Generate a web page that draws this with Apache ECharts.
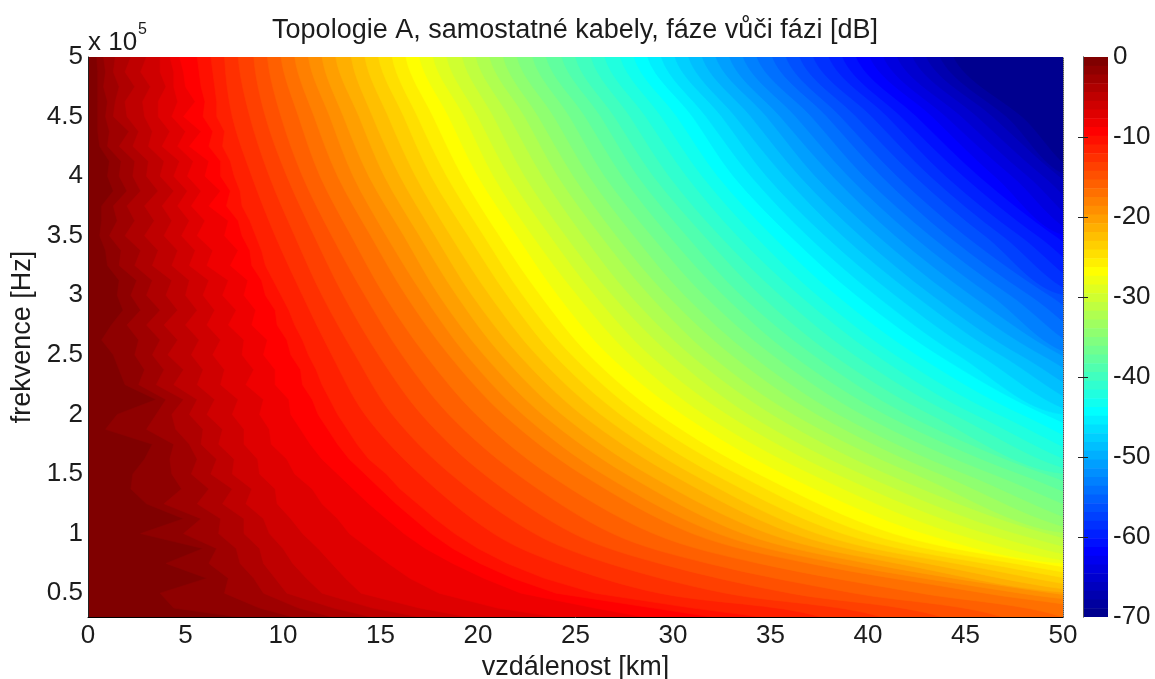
<!DOCTYPE html>
<html><head><meta charset="utf-8">
<style>html,body{margin:0;padding:0;background:#fff}#c{width:1155px;height:679px}</style>
<script src="https://cdn.jsdelivr.net/npm/echarts@6/dist/echarts.min.js"></script>
</head><body><div id="c"></div>
<script>
const titleText = 'Topologie A, samostatné kabely, fáze vůči fázi [dB]';
const xLabel = 'vzdálenost [km]';
const yLabel = 'frekvence [Hz]';
const xTicks = [0,5,10,15,20,25,30,35,40,45,50];
const yTicks = [0.5,1,1.5,2,2.5,3,3.5,4,4.5,5];   // x 10^5 Hz
const colorbarTicks = [0,-10,-20,-30,-40,-50,-60,-70];
const bandCount = 64;

// Distance [km] at which each of the first 10 band edges is crossed, per frequency (x 10^5 Hz).
const nearFreqs = [5,4.875,4.75,4.625,4.5,4.375,4.25,4.125,4,3.875,3.75,3.625,3.5,3.375,3.25,3.125,3,2.875,2.75,2.625,2.5,2.375,2.25,2.125,2,1.875,1.75,1.625,1.5,1.375,1.25,1.125,1,0.875,0.75,0.625,0.5,0.375,0.3];
const nearRows = [
[.45,.8,1.4,2.2,3.0,3.7,4.2,4.7,5.6,6.3],
[.5,.9,1.3,1.9,2.7,3.7,4.4,4.9,5.7,6.4],
[.5,.8,1.6,2.4,3.2,4.0,4.4,5.0,5.8,6.5],
[.5,1.0,1.4,1.9,2.8,3.6,4.6,5.5,6.0,6.6],
[.5,.9,1.3,2.0,2.9,3.6,4.3,4.9,5.9,6.6],
[.5,1.1,2.1,2.6,3.3,4.2,5.0,5.8,6.4,7.0],
[.6,1.0,1.6,2.3,3.1,3.8,4.6,5.2,6.2,6.9],
[1.1,1.7,2.4,3.1,3.9,4.7,5.4,6.2,6.8,7.3],
[1.0,1.6,2.3,3.0,3.7,4.4,5.1,6.0,6.8,7.5],
[1.3,2.0,2.7,3.6,4.4,5.1,5.8,6.8,7.3,7.8],
[.7,1.3,2.0,2.9,3.8,4.6,5.3,6.2,7.1,7.9],
[.7,1.5,2.4,3.4,4.3,5.2,6.0,7.2,7.7,8.3],
[.6,1.1,1.9,2.9,3.9,4.8,5.6,7.0,7.9,8.6],
[.9,1.7,2.7,3.6,4.6,5.5,6.4,7.7,8.3,8.9],
[1.0,1.6,2.4,3.3,4.3,5.2,6.1,7.3,8.4,9.1],
[1.6,2.5,3.3,4.3,5.2,6.2,7.2,8.2,8.9,9.5],
[1.5,2.2,3.0,4.0,5.0,5.9,6.9,8.0,9.1,9.9],
[1.8,2.7,3.7,4.6,5.6,6.5,7.6,8.6,9.6,10.3],
[1.2,2.0,3.0,3.9,5.0,6.1,7.2,8.4,9.7,10.6],
[.7,2.6,3.7,4.6,5.7,6.8,8.0,9.2,10.2,11.0],
[1.3,2.4,3.3,4.1,5.3,6.4,7.9,9.0,10.4,11.3],
[1.6,2.9,3.9,4.9,5.9,7.0,8.5,9.6,10.9,11.7],
[1.9,2.6,3.5,4.4,5.6,6.8,8.1,9.6,11.0,12.0],
[3.5,4.0,4.9,5.6,6.5,7.7,9.0,10.3,11.5,12.4],
[1.5,3.5,4.3,5.2,6.1,7.4,8.8,10.4,11.8,12.8],
[.9,3.0,4.5,5.9,6.9,8.0,9.3,10.9,12.3,13.3],
[3.3,4.4,5.2,5.8,6.7,8.0,9.4,11.4,12.8,13.8],
[2.9,4.2,5.6,6.6,7.5,8.7,10.2,12.0,13.4,14.4],
[2.3,4.3,5.3,6.3,7.4,8.8,10.6,12.8,14.2,15.3],
[2.2,4.8,6.2,7.4,8.4,9.6,11.5,13.6,15.0,16.0],
[3.0,3.9,5.6,6.9,8.1,9.7,12.0,14.4,15.8,16.9],
[4.9,5.8,6.8,8.0,9.0,10.4,12.8,15.3,16.7,17.8],
[2.7,4.9,6.7,8.0,9.3,11.0,13.4,16.2,17.6,18.8],
[5.9,6.6,7.6,8.8,10.0,11.8,14.4,17.3,18.7,20.0],
[4.0,6.2,7.8,9.0,10.5,12.5,15.4,18.7,20.1,21.5],
[6.1,7.2,8.5,9.6,11.2,13.2,16.5,20.3,21.8,23.4],
[3.7,7.0,9.0,10.2,12.0,14.0,18.0,22.2,24.0,26.0],
[4.4,8.8,10.8,12.6,14.6,17,21,26,29,31],
[7.7,10.5,12.5,14.5,17,19.5,24,28.5,32,34.5]
];

// Distance [km] of band edges 11..63 per frequency; each row stops once it has left the plot.
const farFreqs = [5,4.5,4,3.5,3,2.5,2,1.5,1,0.75,0.5,0.3];
const farRows = [
[7.0,7.4,8.4,9.6,11,12.5,14.2,17,20.8,24.1,29.3,37.6],
[7.7,8.3,9.3,10.6,12,13.7,15.6,18.6,22.9,26.7,32.7,40.7],
[8.5,9.1,10.2,11.6,13.1,14.9,17.1,20.3,24.9,29.3,36,43.8],
[9.2,9.9,11,12.5,14.2,16.1,18.5,22,26.9,31.8,39.3,46.9],
[9.9,10.8,11.9,13.5,15.2,17.3,19.9,23.6,29,34.4,42.7,50],
[10.6,11.6,12.8,14.5,16.3,18.5,21.3,25.3,31,37,46,53],
[11.3,12.4,13.6,15.3,17.2,19.4,22.3,26.4,32.3,38.5,47.8,56],
[12,13.1,14.4,16.2,18,20.3,23.3,27.6,33.6,40,49.5,59],
[12.7,13.9,15.2,17,18.9,21.2,24.3,28.7,34.9,41.5,51.3],
[13.5,14.6,16,17.8,19.7,22.1,25.3,29.9,36.2,43,53],
[14.2,15.4,16.8,18.6,20.6,23,26.3,31,37.4,44.5,55],
[14.9,16.2,17.6,19.5,21.5,23.9,27.3,32.1,38.7,46,57],
[15.6,16.9,18.4,20.3,22.3,24.8,28.3,33.3,40,47.5,58.5],
[16.3,17.7,19.2,21.1,23.2,25.7,29.3,34.4,41.3,49,60],
[17,18.5,20,22,24.1,26.7,30.5,35.7,42.9,50.6],
[17.7,19.3,20.8,22.8,25.1,27.8,31.6,37.1,44.5,52.2],
[18.4,20,21.6,23.7,26,28.8,32.8,38.4,46.1,54],
[19.2,20.8,22.4,24.5,26.9,29.9,33.9,39.7,47.6,56],
[19.9,21.6,23.3,25.4,27.8,30.9,35.1,41,49.2,58],
[20.6,22.4,24.1,26.3,28.8,31.9,36.2,42.4,50.8],
[21.3,23.1,24.9,27.1,29.7,33,37.4,43.7,52.4],
[22,23.9,25.7,28,30.6,34,38.5,45,54],
[22.8,24.7,26.5,28.9,31.6,35.1,39.7,46.4,55.8],
[23.5,25.5,27.4,29.8,32.6,36.1,40.9,47.8,57.6],
[24.3,26.3,28.2,30.7,33.5,37.2,42,49.1,59.4],
[25,27,29,31.6,34.5,38.2,43.2,50.5],
[25.8,27.8,29.8,32.4,35.5,39.3,44.4,52],
[26.5,28.6,30.7,33.3,36.5,40.4,45.5,53.4],
[27.3,29.4,31.5,34.2,37.4,41.4,46.7,54.8],
[28,30.2,32.3,35.1,38.4,42.5,47.9,56],
[28.7,31,33.1,36,39.4,43.6,49.1,57.5],
[29.4,31.7,34,36.9,40.4,44.6,50.3],
[30.1,32.5,34.8,37.8,41.4,45.7,51.6],
[30.8,33.2,35.7,38.7,42.4,46.8,52.9],
[31.5,34,36.5,39.6,43.3,47.8,54.2],
[32.2,34.8,37.3,40.5,44.3,48.9,55.5],
[32.9,35.5,38.2,41.4,45.3,49.9,56.8],
[33.6,36.3,39,42.3,46.3,51],
[34.3,37.1,39.8,43.2,47.3,52.2],
[35.1,37.9,40.7,44.1,48.3,53.4],
[35.8,38.6,41.5,45,49.3,54.6],
[36.5,39.4,42.4,46,50.4],
[37.2,40.2,43.2,46.9,51.4],
[38,41,44,47.8,52.5],
[38.7,41.7,44.9,48.7,53.5],
[39.4,42.5,45.7,49.6,54.5],
[40.1,43.3,46.5,50.5],
[40.8,44,47.4,51.4],
[41.5,44.8,48.2,52.3],
[42.3,45.6,49,53.2],
[43,46.4,49.8,54.1],
[43.7,47.1,50.7],
[44.4,47.9,51.5]
];

// MATLAB jet, 64 steps, indexed from the top of the colour bar (0 dB) downwards.
function clamp(v){return Math.max(0,Math.min(1,v));}
function jet(k){
  const x=(bandCount-k)/bandCount;
  const c=v=>Math.round(255*clamp(v));
  return 'rgb('+c(Math.min(4*x-1.5,-4*x+4.5))+','+c(Math.min(4*x-.5,-4*x+3.5))+','+c(Math.min(4*x+.5,-4*x+2.5))+')';
}
const FONT='"Liberation Sans", Arial, sans-serif';
const FS=26, FST=27, INK='#1c1c1c';

const edges=[];
for(let k=1;k<bandCount;k++) edges.push([k]);
const bands=[];
for(let k=0;k<bandCount;k++) bands.push([k]);

function contourItem(params,api){
  const k=api.value(0);
  let pts,smooth;
  if(k<=nearRows[0].length){
    pts=nearFreqs.map((f,i)=>[nearRows[i][k-1],f]); smooth=0;
  }else{
    pts=farRows[k-nearRows[0].length-1].map((x,i)=>[x,farFreqs[i]]); smooth=0.33;
  }
  const last=pts[pts.length-1];
  const full=[[pts[0][0],5.7]].concat(pts);
  if(last[1]<=0.3) full.push([last[0],0.1]);
  full.push([400,last[1]<=0.3?0.1:last[1]],[400,5.7]);
  return {type:'polygon',shape:{points:full.map(p=>api.coord(p)),smooth:smooth},
    style:{fill:jet(k),stroke:jet(k),lineWidth:0.6}};
}
function bandItem(params,api){
  const k=api.value(0), h=70/bandCount;
  const a=api.coord([0,-k*h]), b=api.coord([1,-(k+1)*h]);
  return {type:'rect',shape:{x:a[0],y:a[1],width:b[0]-a[0],height:b[1]-a[1]+0.5},style:{fill:jet(k)}};
}
const chart=echarts.init(document.getElementById('c'),null,{renderer:'canvas'});
chart.setOption({
  animation:false,
  backgroundColor:'#fff',
  textStyle:{fontFamily:FONT},
  title:[
    {text:titleText,left:570,top:12,textAlign:'center',textStyle:{fontFamily:FONT,fontSize:FST,fontWeight:'normal',color:INK}},
    {text:'x 10',left:83,top:25,textStyle:{fontFamily:FONT,fontSize:FS,fontWeight:'normal',color:INK}},
    {text:'5',left:133,top:17,textStyle:{fontFamily:FONT,fontSize:16,fontWeight:'normal',color:INK}}
  ],
  grid:[
    {left:88,top:57,width:975,height:560,show:true,backgroundColor:jet(0),borderWidth:0,outerBoundsMode:'none'},
    {left:1083,top:57,width:25,height:560,show:false,outerBoundsMode:'none'}
  ],
  xAxis:[
    {gridIndex:0,type:'value',min:0,max:50,interval:5,
     name:xLabel,nameLocation:'middle',nameGap:30,nameTextStyle:{fontFamily:FONT,fontSize:FST,color:INK},
     axisLine:{show:true,lineStyle:{color:'#000',width:1}},axisTick:{show:false},splitLine:{show:false},
     axisLabel:{show:true,fontFamily:FONT,fontSize:FS,color:INK,margin:6}},
    {gridIndex:1,type:'value',min:0,max:1,show:false}
  ],
  yAxis:[
    {gridIndex:0,type:'value',min:0.3,max:5,
     name:yLabel,nameLocation:'middle',nameGap:46,nameTextStyle:{fontFamily:FONT,fontSize:FST,color:INK},
     axisLine:{show:true,lineStyle:{color:'#222',width:1}},axisTick:{show:false},splitLine:{show:false},
     axisLabel:{show:true,fontFamily:FONT,fontSize:FS,color:INK,margin:5,customValues:yTicks,formatter:v=>String(v)}},
    {gridIndex:0,type:'value',min:0.3,max:5,position:'right',
     axisLine:{show:true,lineStyle:{color:'#555',width:1,type:'dotted'}},axisTick:{show:false},axisLabel:{show:false},splitLine:{show:false}},
    {gridIndex:1,type:'value',min:-70,max:0,interval:10,position:'right',z:6,
     axisLine:{show:true,lineStyle:{color:'#555',width:1}},
     axisTick:{show:true,inside:true,length:5,lineStyle:{color:'#222'},customValues:[-10,-20,-30,-40,-50,-60]},splitLine:{show:false},
     axisLabel:{show:true,fontFamily:FONT,fontSize:FS,color:INK,margin:5,customValues:colorbarTicks}},
    {gridIndex:1,type:'value',min:-70,max:0,interval:10,position:'left',z:6,
     axisLine:{show:true,lineStyle:{color:'#555',width:1}},
     axisTick:{show:true,inside:true,length:5,lineStyle:{color:'#222'},customValues:[-10,-20,-30,-40,-50,-60]},axisLabel:{show:false},splitLine:{show:false}}
  ],
  series:[
    {type:'custom',xAxisIndex:0,yAxisIndex:0,clip:true,silent:true,data:edges,encode:{tooltip:0},renderItem:contourItem},
    {type:'custom',xAxisIndex:1,yAxisIndex:2,clip:true,silent:true,data:bands,encode:{tooltip:0},renderItem:bandItem}
  ]
});
</script></body></html>
